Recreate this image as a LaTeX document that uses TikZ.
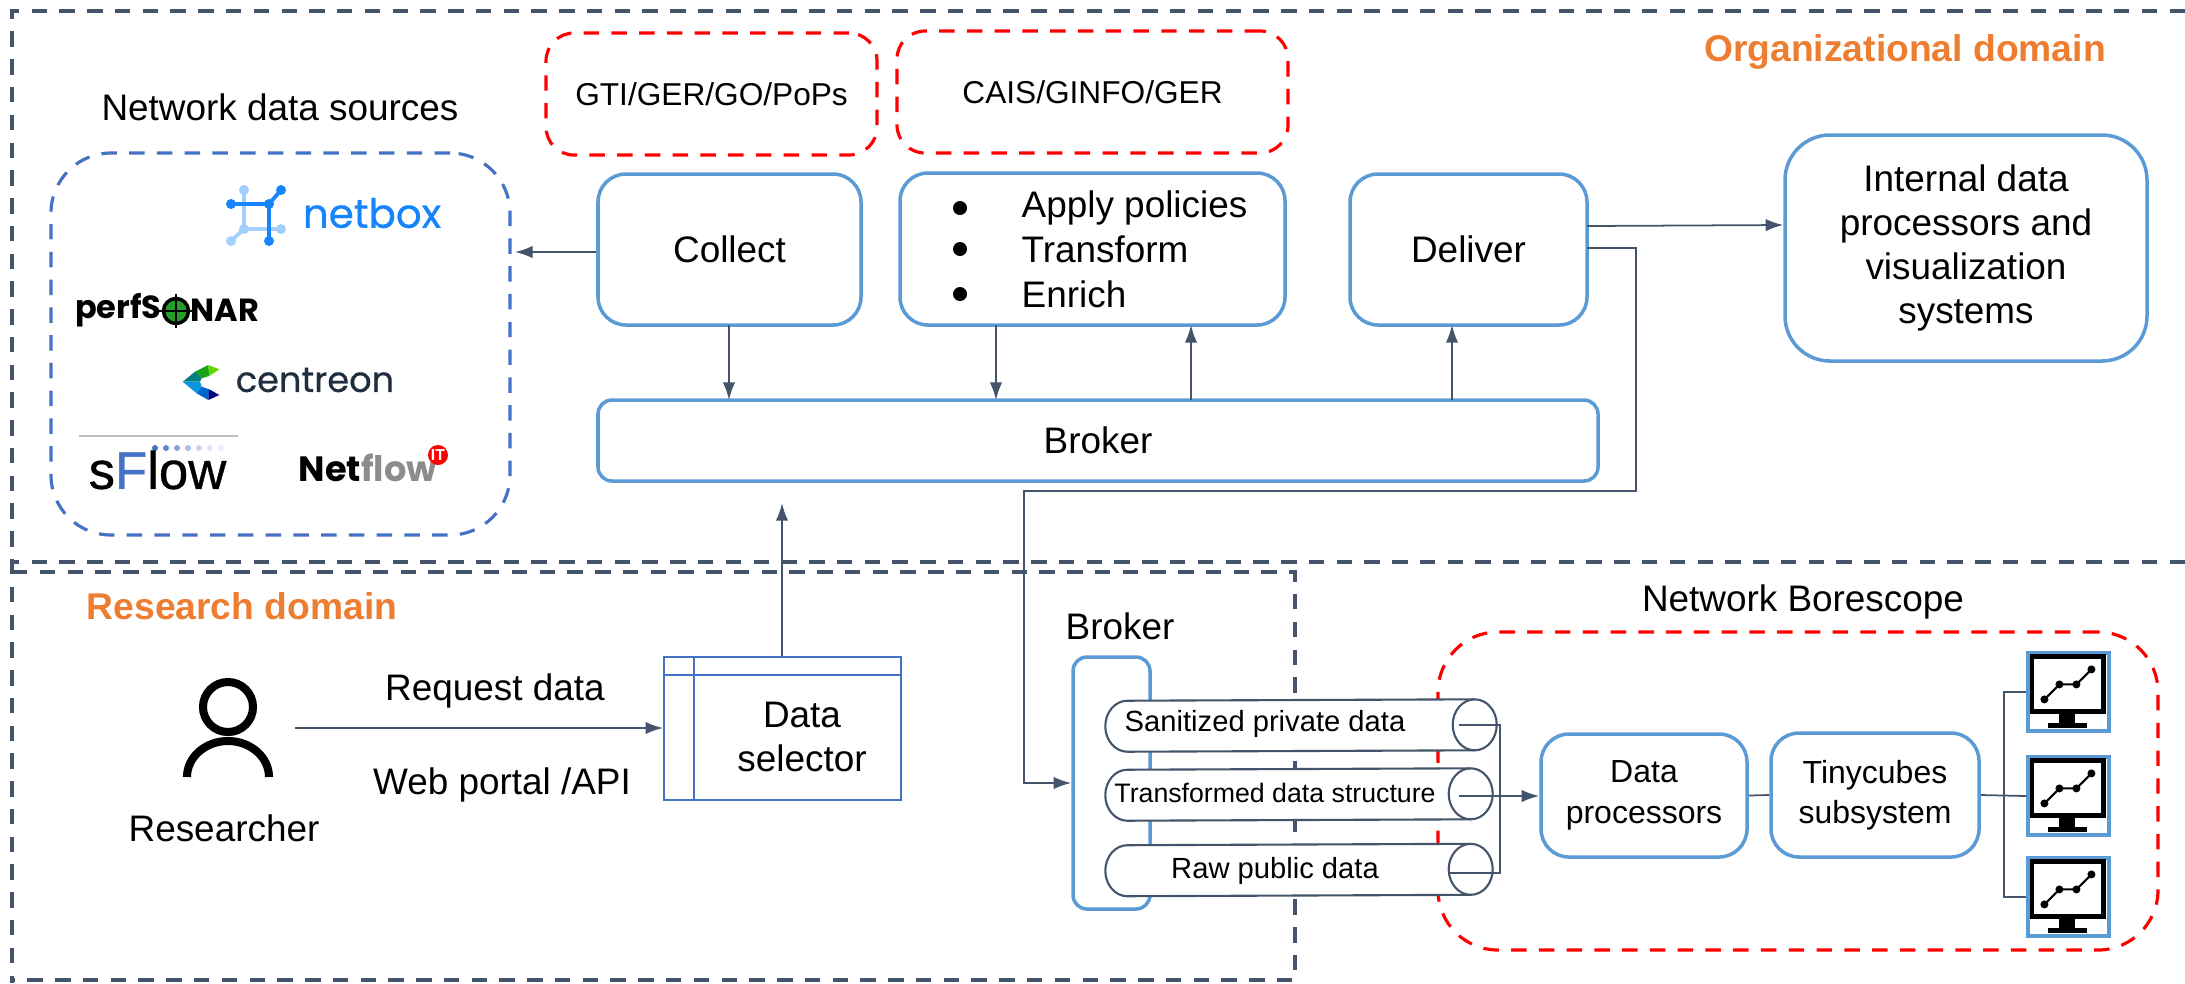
\documentclass[tikz,border=0pt]{standalone}
\usepackage{fontspec}
\setmainfont{Liberation Sans}
\newfontfamily\logofont{Poppins}
\newfontfamily\logomedium[FakeBold=.6]{Poppins}
\newfontfamily\sflowfont[FakeBold=.7]{Liberation Sans}
\usetikzlibrary{arrows.meta}
\definecolor{slateline}{HTML}{44546A}
\definecolor{boxblue}{HTML}{5B9BD5}
\definecolor{dashblue}{HTML}{4472C4}
\definecolor{domainorange}{HTML}{ED7D31}
\definecolor{netboxblue}{HTML}{1685FC}
\definecolor{netboxlight}{HTML}{A3CFFD}
\definecolor{centreondark}{HTML}{1F2D3D}

\begin{document}
\begin{tikzpicture}
\tikzset{stagebox/.style = {draw=boxblue, line width=1pt, rounded corners=.28cm, inner sep=0pt, align=center, font=\fontsize{10.5}{12.5}\selectfont}}
\tikzset{reddash/.style = {draw=red, line width=.9pt, dash pattern=on 4.4pt off 3.5pt, rounded corners=.28cm, inner sep=0pt, font=\fontsize{9}{11}\selectfont}}
\tikzset{domainline/.style = {draw=slateline, line width=.9pt, dash pattern=on 4.4pt off 3.5pt}}
\tikzset{edge/.style = {-{Latex[length=5pt,width=3.5pt]}, draw=slateline, line width=.5pt}}
\tikzset{plainedge/.style = {draw=slateline, line width=.5pt}}
\tikzset{queueline/.style = {draw=slateline, line width=.6pt}}
\tikzset{queuetext/.style = {inner sep=0pt, font=\fontsize{8.3}{10}\selectfont}}
\tikzset{plaintext/.style = {inner sep=0pt, font=\fontsize{10.5}{12.5}\selectfont}}
\useasboundingbox (0,0) rectangle (21.85,-9.83);

% domains
\draw [domainline] (21.85,-.11) -- (.12,-.11) -- (.12,-9.83);
\draw [domainline] (21.85,-5.62) -- (.12,-5.62);
\draw [domainline] (.12,-5.72) -- (12.95,-5.72) -- (12.95,-9.80) -- (.12,-9.80);
\node [inner sep=0pt, text=domainorange, font=\fontsize{10.6}{13}\selectfont\bfseries] (orgtitle) at (19.05,-.52) {Organizational domain};
\node [inner sep=0pt, text=domainorange, font=\fontsize{10.6}{13}\selectfont\bfseries] (restitle) at (2.42,-6.06) {Research domain};

% sources
\node [plaintext] (sourcestitle) at (2.80,-1.07) {Network data sources};
\node [draw=dashblue, line width=.9pt, dash pattern=on 4.4pt off 3.5pt, rounded corners=.6cm, minimum width=4.59cm, minimum height=3.82cm] (sources) at (2.805,-3.44) {};

% netbox
\draw [netboxlight, line width=1.1pt] (2.44,-1.90) -- (2.44,-2.29) -- (2.81,-2.29);
\draw [netboxlight, line width=1.1pt] (2.44,-2.29) -- (2.31,-2.41);
\draw [netboxblue, line width=1.1pt] (2.31,-2.04) -- (2.69,-2.04) -- (2.69,-2.41);
\draw [netboxblue, line width=1.1pt] (2.69,-2.04) -- (2.81,-1.90);
\foreach \x/\y in {2.44/1.90, 2.44/2.29, 2.81/2.29, 2.31/2.41}
  {\fill [netboxlight] (\x,-\y) circle (.05);}
\foreach \x/\y in {2.31/2.04, 2.69/2.04, 2.81/1.90, 2.69/2.41}
  {\fill [netboxblue] (\x,-\y) circle (.05);}
\node [inner sep=0pt, text=netboxblue, font=\fontsize{11.5}{13}\logomedium] (netbox) at (3.72,-2.13) {netbox};

% perfsonar
\node [inner sep=0pt, anchor=east, font=\fontsize{9.1}{11}\logofont\bfseries] (perfs) at (1.62,-3.10) {perfS};
\node [inner sep=0pt, anchor=west, font=\fontsize{9.1}{11}\logofont\bfseries] (nar) at (1.90,-3.10) {NAR};
\draw [fill=green!55!black!85, line width=1pt] (1.76,-3.11) circle (.125);
\draw [line width=.3pt] (1.59,-3.11) -- (1.93,-3.11);
\draw [line width=.3pt] (1.76,-2.94) -- (1.76,-3.28);

% centreon
\fill [green!60!black!90] (1.95,-3.717) -- (2.083,-3.65) -- (2.093,-3.76) -- (2.017,-3.783) -- cycle;
\fill [green!55!yellow!85!black] (2.083,-3.65) -- (2.193,-3.693) -- (2.093,-3.76) -- cycle;
\fill [teal] (1.827,-3.817) -- (1.95,-3.717) -- (2.017,-3.783) -- (2.00,-3.817) -- cycle;
\fill [cyan!80!blue] (1.827,-3.817) -- (2.00,-3.817) -- (2.017,-3.867) -- (1.967,-3.933) -- cycle;
\fill [blue!50!cyan!80!black] (1.967,-3.933) -- (2.017,-3.867) -- (2.093,-3.893) -- (2.083,-4.00) -- cycle;
\fill [blue!50!black] (2.083,-4.00) -- (2.093,-3.893) -- (2.193,-3.95) -- cycle;
\node [inner sep=0pt, text=centreondark, font=\fontsize{10}{12}\logomedium] (centreon) at (3.15,-3.80) {centreon};

% sflow
\draw [black!25, line width=.4pt] (.79,-4.36) -- (2.38,-4.36);
\foreach \x/\o in {1.55/100, 1.66/85, 1.77/65, 1.88/45, 1.99/30, 2.10/20, 2.21/12}
  {\fill [dashblue!\o] (\x,-4.48) circle (.03);}
\node [inner sep=0pt, font=\fontsize{15}{17}\sflowfont] (sflow) at (1.575,-4.70) {s{\color{dashblue}F}low};

% netflow
\node [inner sep=0pt, font=\fontsize{10}{12}\logofont\bfseries] (netflow) at (3.68,-4.68) {Net{\color{black!45}flow}};
\node [circle, fill=red, inner sep=0pt, minimum size=.2cm, text=white, font=\fontsize{4.5}{5}\selectfont\bfseries] (netflowit) at (4.38,-4.55) {IT};

% organization
\node [reddash, minimum width=3.31cm, minimum height=1.22cm] (gti) at (7.115,-.94) {GTI/GER/GO/PoPs};
\node [reddash, minimum width=3.91cm, minimum height=1.22cm] (cais) at (10.925,-.92) {CAIS/GINFO/GER};
\node [stagebox, minimum width=2.63cm, minimum height=1.51cm] (collect) at (7.295,-2.495) {Collect};
\node [stagebox, minimum width=3.85cm, minimum height=1.52cm] (policies) at (10.925,-2.49) {};
\node [stagebox, minimum width=2.37cm, minimum height=1.51cm] (deliver) at (14.685,-2.495) {Deliver};
\node [stagebox, minimum width=3.62cm, minimum height=2.26cm, rounded corners=.45cm] (internal) at (19.66,-2.48) {Internal data\\processors and\\visualization\\systems};
\node [stagebox, minimum width=10.0cm, minimum height=.81cm, rounded corners=.14cm] (brokertop) at (10.98,-4.405) {Broker};

\foreach \y/\lab [count=\n] in {2.08/Apply policies, 2.49/Transform, 2.94/Enrich}
  {\fill (9.60,-\y) circle (.07);
   \node [plaintext, anchor=west] (policy\n) at (10.21,-\y) {\lab};}

\coordinate (collectout) at (5.15,-2.52);
\draw [edge] (collect.west |- collectout) -- (collectout);
\draw [edge] (7.29,-3.25) -- (7.29,-4.00);
\draw [edge] (9.96,-3.25) -- (9.96,-4.00);
\draw [edge] (11.91,-4.00) -- (11.91,-3.25);
\draw [edge] (14.52,-4.00) -- (14.52,-3.25);
\draw [edge] (15.87,-2.26) -- (internal.west |- 15.87,-2.25);

% research
\node [draw=dashblue, line width=.5pt, minimum width=2.37cm, minimum height=1.43cm, inner sep=0pt] (selector) at (7.825,-7.285) {};
\draw [dashblue, line width=.5pt] (6.94,-6.57) -- (6.94,-8.00);
\draw [dashblue, line width=.5pt] (6.64,-6.75) -- (9.01,-6.75);
\node [plaintext, align=center] (selectortext) at (8.02,-7.37) {Data\\selector};
\coordinate (selectorup) at (7.82,-5.03);
\draw [edge] (selector.north -| selectorup) -- (selectorup);

\draw [line width=2.3pt] (2.28,-7.07) circle (.25);
\draw [line width=2.3pt] (1.87,-7.77) arc (180:0:.41 and .36);
\coordinate (researcherout) at (2.95,-7.28);
\node [plaintext] (researcher) at (2.24,-8.28) {Researcher};
\node [plaintext] (request) at (4.95,-6.91) {Request data};
\node [plaintext] (portal) at (5.02,-7.85) {Web portal /API};
\draw [edge] (researcherout) -- (selector.west |- researcherout);

% borescope
\node [plaintext] (brokerlabel) at (11.20,-6.26) {Broker};
\node [plaintext] (borescopelabel) at (18.03,-6.02) {Network Borescope};
\node [reddash, minimum width=7.20cm, minimum height=3.18cm, rounded corners=.6cm] (borescope) at (17.98,-7.91) {};
\node [stagebox, minimum width=.77cm, minimum height=2.52cm, rounded corners=.14cm] (brokerbox) at (11.115,-7.83) {};

\foreach \q/\w/\x/\y in {one/3.46/13.01/7.255, two/3.42/12.99/7.945, three/3.42/12.99/8.70}
{
  \node [inner sep=0pt, minimum width=\w cm, minimum height=.51cm] (queue\q) at (\x,-\y) {};
  \draw [queueline, fill=white] (queue\q.north east) arc (90:-90:.22 and .255) -- (queue\q.south west) arc (270:90:.22 and .255) -- cycle;
  \draw [queueline] (queue\q.north east) arc (90:270:.22 and .255);
}
\node [queuetext] (queueonetext) at (12.65,-7.24) {Sanitized private data};
\node [queuetext, font=\fontsize{7.6}{9}\selectfont] (queuetwotext) at (12.75,-7.93) {Transformed data structure};
\node [queuetext] (queuethreetext) at (12.75,-8.71) {Raw public data};

\coordinate (tapone) at (14.59,-7.25);
\coordinate (taptwo) at (14.59,-7.96);
\coordinate (tapthree) at (14.48,-8.73);
\node [stagebox, minimum width=2.06cm, minimum height=1.23cm, font=\fontsize{9.1}{11.5}\selectfont] (processors) at (16.44,-7.955) {Data\\processors};
\node [stagebox, minimum width=2.08cm, minimum height=1.24cm, font=\fontsize{9.1}{11.5}\selectfont] (tinycubes) at (18.75,-7.95) {Tinycubes\\subsystem};

\draw [plainedge] (tapone) -- (15.00,-7.25) -- (15.00,-8.73) -- (tapthree);
\draw [edge] (taptwo) -- (processors.west |- taptwo);
\draw [plainedge] (processors.east) -- (tinycubes.west);

% monitors
\foreach \mon/\y in {one/6.92, two/7.96, three/8.97}
{
  \node [draw=boxblue, line width=.9pt, minimum width=.81cm, minimum height=.78cm, inner sep=0pt] (monitor\mon) at (20.685,-\y) {};
  \begin{scope}[shift={(monitor\mon.north west)}]
    \fill (.04,-.03) rectangle (.80,-.63);
    \fill [white] (.08,-.08) rectangle (.75,-.58);
    \fill (.33,-.63) rectangle (.49,-.72);
    \fill (.22,-.72) rectangle (.61,-.77);
    \draw [line width=.6pt] (.18,-.48) -- (.33,-.33) -- (.50,-.33) -- (.65,-.18);
    \foreach \x/\z in {.18/.48, .33/.33, .50/.33, .65/.18}
      {\fill (\x,-\z) circle (.04);}
  \end{scope}
}
\draw [plainedge] (tinycubes.east) -- (monitortwo.west);
\draw [plainedge] (monitorone.west) -- (20.04,-6.92) -- (20.04,-8.97) -- (monitorthree.west);

% broker feed
\coordinate (brokerfeed) at (15.87,-2.48);
\draw [edge] (brokerfeed) -- (16.36,-2.48) -- (16.36,-4.91) -- (10.24,-4.91) -- (10.24,-7.83) -- (brokerbox.west |- 10.24,-7.83);
\end{tikzpicture}
\end{document}
